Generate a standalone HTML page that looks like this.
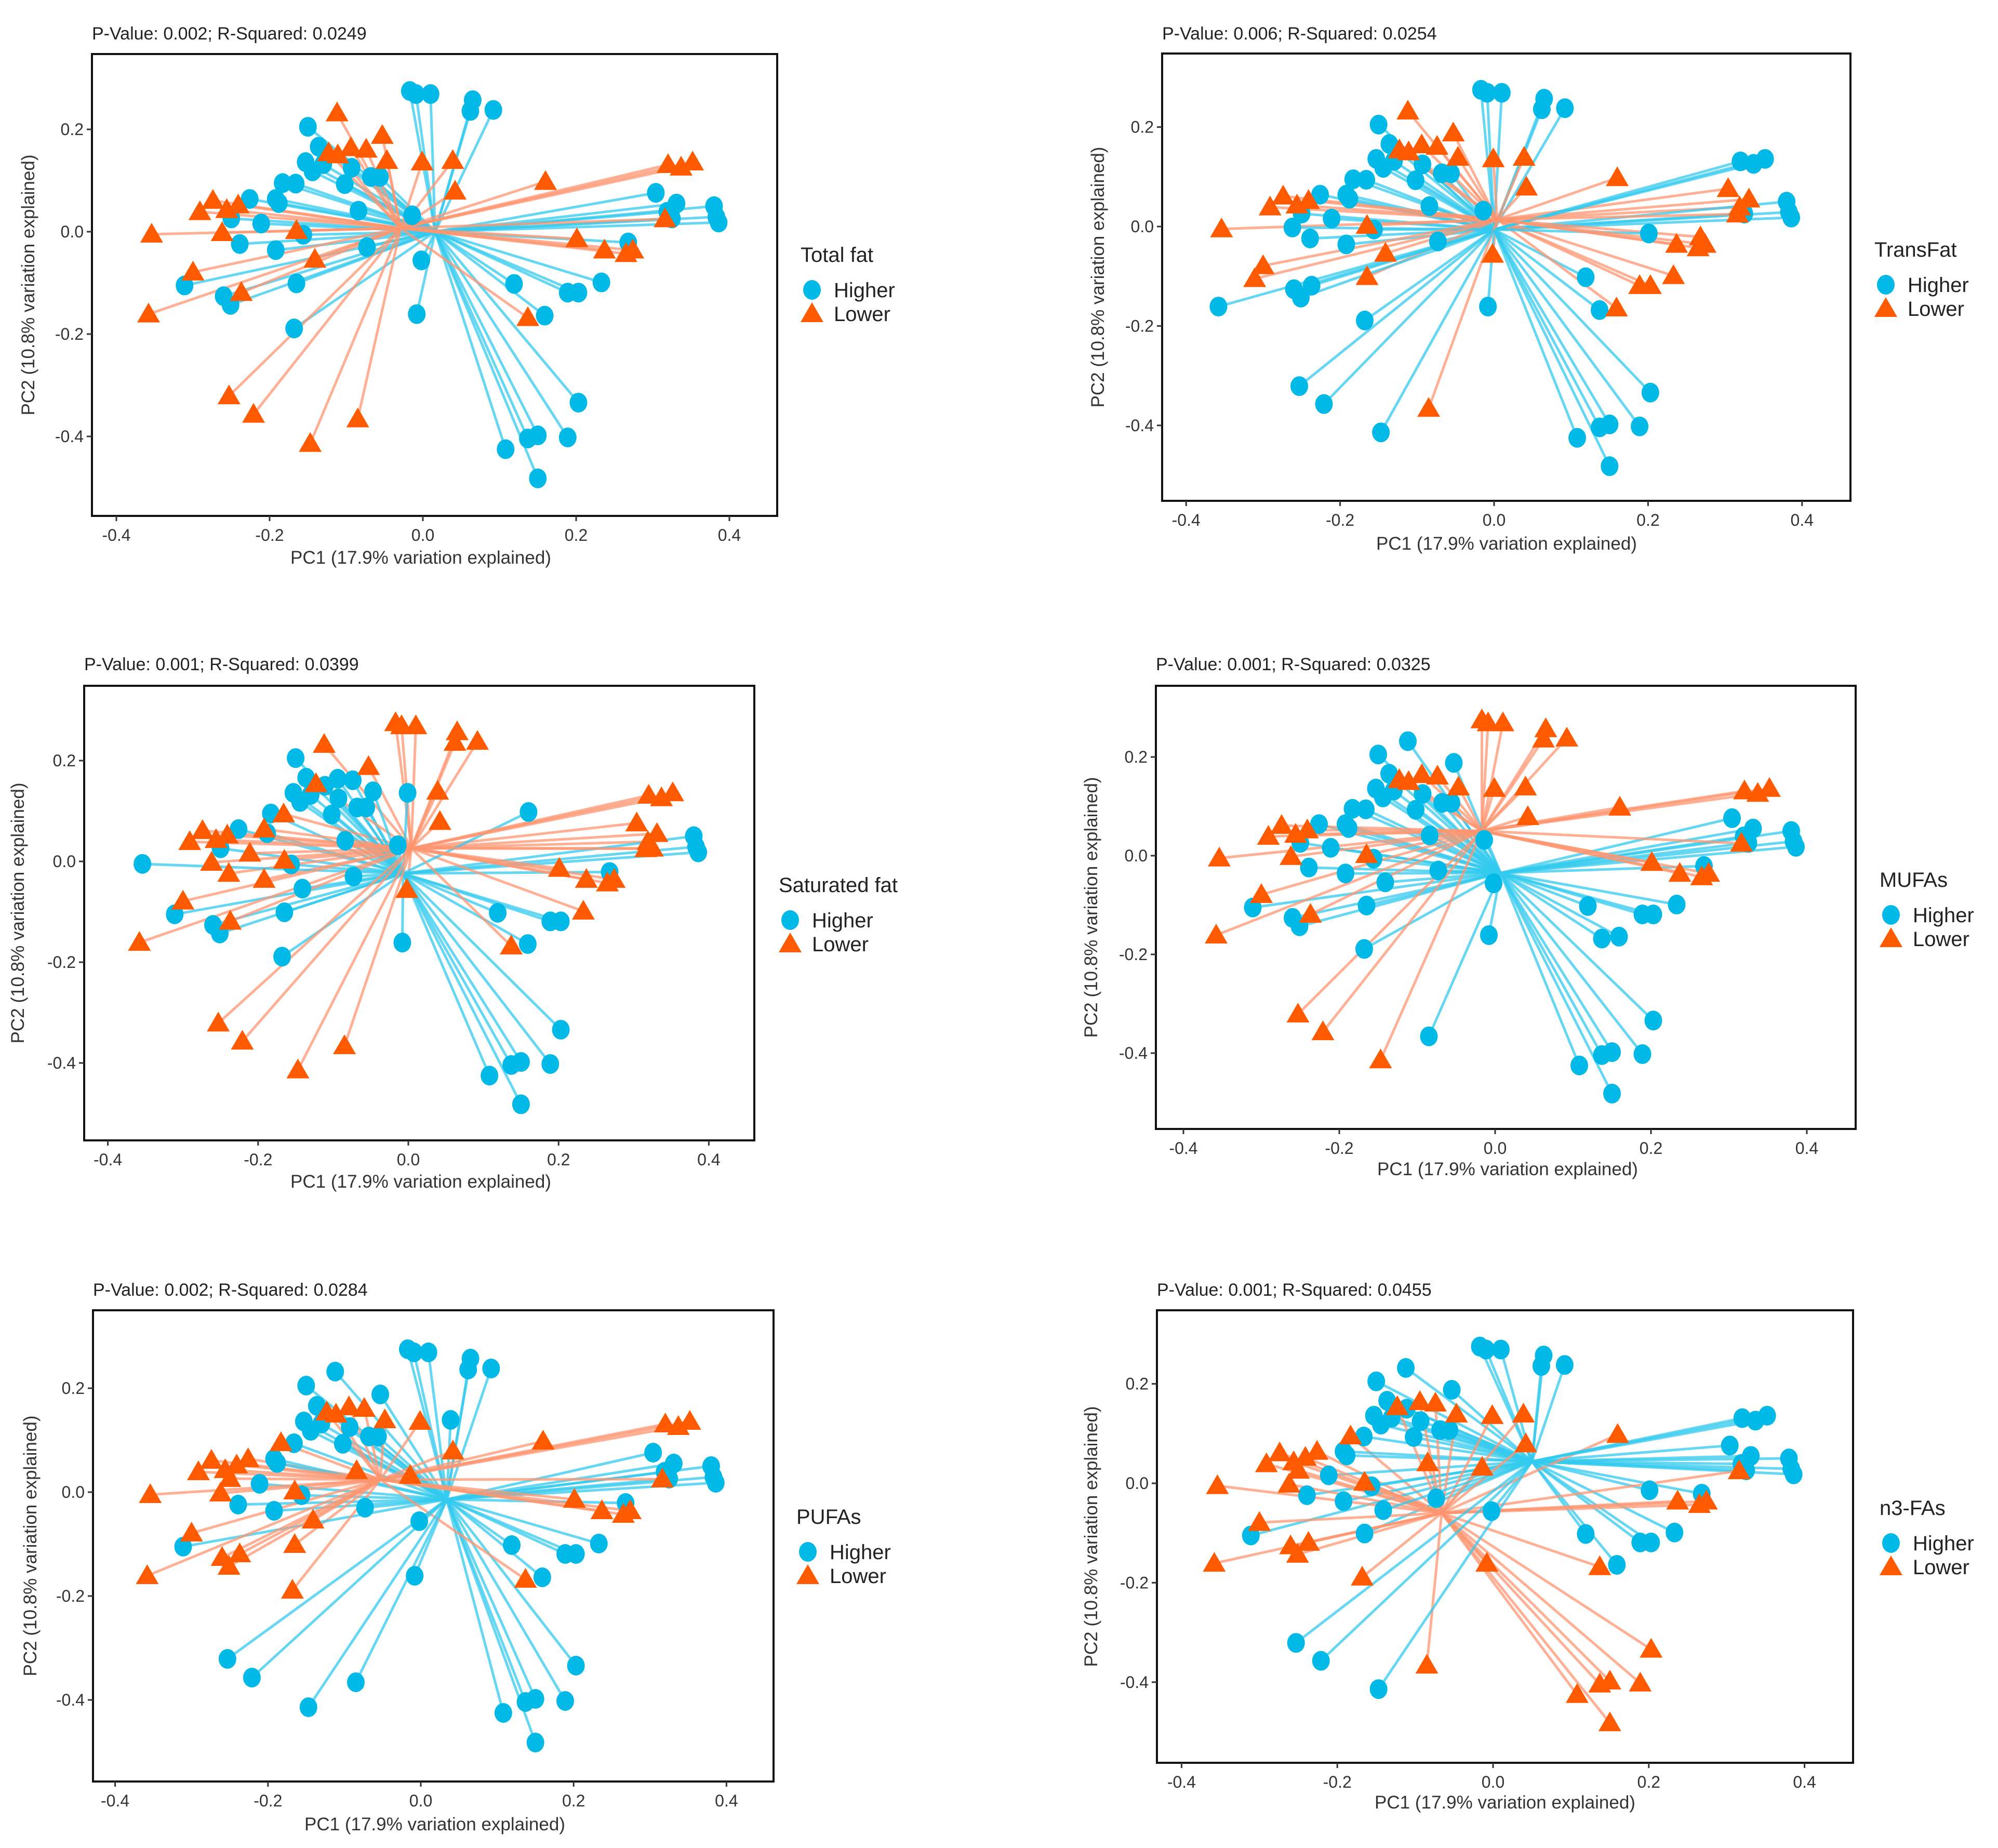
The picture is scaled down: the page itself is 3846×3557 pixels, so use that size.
<!DOCTYPE html>
<html><head><meta charset="utf-8"><style>
html,body{margin:0;padding:0;background:#fff;}
svg{display:block;font-family:"Liberation Sans",sans-serif;}
</style></head><body>
<svg id="fig" width="3846" height="3557" viewBox="0 0 3846 3557" xmlns="http://www.w3.org/2000/svg"></svg>
<script>
// Shared sample coordinates (PC1, PC2)
const pc1 = [-0.017,-0.009,0.010,0.065,0.062,0.092,-0.150,-0.136,-0.153,-0.144,-0.130,-0.093,-0.102,-0.183,-0.166,-0.226,-0.192,-0.188,-0.068,-0.056,-0.084,-0.014,-0.250,-0.211,-0.156,-0.239,-0.192,-0.073,-0.002,-0.165,-0.311,-0.260,-0.251,-0.168,-0.008,0.304,0.331,0.319,0.325,0.380,0.383,0.386,0.268,0.119,0.189,0.203,0.233,0.159,0.203,0.137,0.150,0.189,0.108,0.150,-0.112,-0.053,-0.094,-0.074,-0.123,-0.111,-0.047,-0.001,0.039,0.042,0.160,0.320,0.337,0.352,-0.274,-0.291,-0.256,-0.241,-0.354,-0.262,-0.165,-0.141,-0.300,-0.237,-0.358,0.201,0.237,0.265,0.274,0.137,0.316,-0.253,-0.221,-0.085,-0.147];
const pc2 = [0.275,0.269,0.269,0.257,0.236,0.238,0.205,0.166,0.136,0.118,0.132,0.125,0.093,0.095,0.094,0.064,0.064,0.056,0.107,0.107,0.041,0.032,0.026,0.016,-0.006,-0.024,-0.036,-0.030,-0.056,-0.101,-0.105,-0.126,-0.143,-0.189,-0.161,0.076,0.055,0.039,0.026,0.050,0.029,0.018,-0.021,-0.102,-0.119,-0.119,-0.099,-0.164,-0.334,-0.404,-0.398,-0.402,-0.425,-0.482,0.232,0.188,0.164,0.161,0.154,0.150,0.139,0.136,0.139,0.079,0.098,0.131,0.126,0.136,0.061,0.039,0.043,0.052,-0.005,-0.002,0.002,-0.054,-0.079,-0.119,-0.161,-0.014,-0.036,-0.043,-0.036,-0.168,0.025,-0.321,-0.357,-0.366,-0.414];
// Sample numbers (1-based) in the "Lower" group for each panel
const lowerTotalFat = [55,56,57,58,59,60,61,62,63,64,65,66,67,68,69,70,71,72,73,74,75,76,77,78,79,80,81,82,83,84,85,86,87,88,89];
const lowerTransFat = [55,56,57,58,59,60,61,62,63,64,65,36,37,38,85,69,70,71,72,73,75,76,77,31,30,29,43,81,82,83,47,45,46,48,88];
const lowerSatFat = [1,2,3,4,5,6,55,56,59,63,64,66,67,68,36,37,38,39,85,80,81,82,83,47,84,29,74,26,27,24,75,17,15,69,70,71,72,77,78,79,86,87,88,89];
const lowerMUFA = [1,2,3,4,5,6,57,58,59,60,61,62,63,64,65,66,67,68,85,80,81,82,83,69,70,71,72,73,74,75,77,78,79,86,87,89];
const lowerPUFA = [57,58,59,60,61,62,64,65,66,67,68,85,80,81,82,83,84,14,21,22,16,69,70,71,72,23,73,74,75,76,77,32,33,78,79,30,34];
const lowerN3 = [57,58,59,61,62,63,64,65,14,21,22,16,69,70,71,72,23,73,74,75,77,32,33,78,79,34,35,84,81,82,83,85,49,50,51,52,53,54,88];
// Group centroids per panel
const centLowerX = [-0.029,0.004,0.004,-0.017,-0.053,-0.066];
const centLowerY = [0.007,0.014,0.026,0.050,0.024,-0.060];
const centHigherX = [0.016,0.000,-0.007,0.007,0.034,0.050];
const centHigherY = [0.000,-0.006,-0.024,-0.035,-0.014,0.044];
const titles = ["P-Value: 0.002; R-Squared: 0.0249","P-Value: 0.006; R-Squared: 0.0254","P-Value: 0.001; R-Squared: 0.0399","P-Value: 0.001; R-Squared: 0.0325","P-Value: 0.002; R-Squared: 0.0284","P-Value: 0.001; R-Squared: 0.0455"];
const legendTitles = ["Total fat","TransFat","Saturated fat","MUFAs","PUFAs","n3-FAs"];
const xTicks = [-0.4,-0.2,0.0,0.2,0.4];
const yTicks = [0.2,0.0,-0.2,-0.4];
const groupsAll = [lowerTotalFat,lowerTransFat,lowerSatFat,lowerMUFA,lowerPUFA,lowerN3];

// layout (pixels)
const L = [
 {bx0:177,bx1:1496,by0:104,by1:993,x0:814,sx:1475,y0:446,sy:985,lx:1563,ly:490,tx:177,ty:76,xt:810,xtY:1085,ytX:66},
 {bx0:2237,bx1:3562,by0:103,by1:964,x0:2876,sx:1482,y0:436,sy:957,lx:3630,ly:480,tx:2237,ty:76,xt:2900,xtY:1058,ytX:2125},
 {bx0:162,bx1:1452,by0:1320,by1:2195,x0:786,sx:1446,y0:1658,sy:970,lx:1521,ly:1703,tx:162,ty:1290,xt:810,xtY:2286,ytX:46},
 {bx0:2225,bx1:3572,by0:1320,by1:2173,x0:2878,sx:1500,y0:1647,sy:950,lx:3640,ly:1693,tx:2225,ty:1290,xt:2902,xtY:2262,ytX:2112},
 {bx0:179,bx1:1489,by0:2522,by1:3429,x0:810,sx:1471,y0:2872,sy:1000,lx:1555,ly:2919,tx:179,ty:2494,xt:837,xtY:3523,ytX:70},
 {bx0:2227,bx1:3567,by0:2522,by1:3393,x0:2874,sx:1499,y0:2855,sy:957,lx:3640,ly:2902,tx:2227,ty:2494,xt:2897,xtY:3481,ytX:2112}
];
const BLUE="#00B9E6", ORANGE="#FF5A00", BLUEL="#33C9EE", ORANGEL="#FF9670";
const NS="http://www.w3.org/2000/svg";
const fig=document.getElementById('fig');
function mk(tag,attrs,parent){const e=document.createElementNS(NS,tag);for(const k in attrs)e.setAttribute(k,attrs[k]);parent.appendChild(e);return e;}
function fmt(v){return v.toFixed(1);}

for(let p=0;p<6;p++){
  const c=L[p];
  const X=v=>c.x0+v*c.sx, Y=v=>c.y0-v*c.sy;
  const low=new Set(groupsAll[p]);
  const g=mk('g',{},fig);
  
  
  const t=mk('text',{x:c.tx,y:c.ty,'font-size':34,fill:'#222'},g);
  t.textContent=titles[p];
  
  
  const box=mk('rect',{x:c.bx0,y:c.by0,width:c.bx1-c.bx0,height:c.by1-c.by0,fill:'none',stroke:'#111','stroke-width':4},g);
  
  
  // ticks
  xTicks.forEach(v=>{
    const px=X(v);
    const tk=mk('line',{x1:px,x2:px,y1:c.by1,y2:c.by1+10,stroke:'#333','stroke-width':3},g);
    
    
    const tl=mk('text',{x:px,y:c.by1+48,'font-size':32,'text-anchor':'middle',fill:'#333'},g);
    tl.textContent=fmt(v);
    
    
  });
  yTicks.forEach(v=>{
    const py=Y(v);
    const tk=mk('line',{x1:c.bx0-10,x2:c.bx0,y1:py,y2:py,stroke:'#333','stroke-width':3},g);
    
    
    const tl=mk('text',{x:c.bx0-16,y:py+11,'font-size':32,'text-anchor':'end',fill:'#333'},g);
    tl.textContent=fmt(v);
    
    
  });
  const xa=mk('text',{x:c.xt,y:c.xtY,'font-size':35,'text-anchor':'middle',fill:'#333'},g);
  xa.textContent="PC1 (17.9% variation explained)";
  
  
  const cy=(c.by0+c.by1)/2;
  const ya=mk('text',{x:c.ytX,y:cy,'font-size':35,'text-anchor':'middle',fill:'#333',transform:'rotate(-90 '+c.ytX+' '+cy+')'},g);
  ya.textContent="PC2 (10.8% variation explained)";
  
  
  // spider lines
  const cL=[X(centLowerX[p]),Y(centLowerY[p])], cH=[X(centHigherX[p]),Y(centHigherY[p])];
  for(let i=0;i<pc1.length;i++){
    const isL=low.has(i+1), cc=isL?cL:cH;
    const ln=mk('line',{x1:cc[0],y1:cc[1],x2:X(pc1[i]),y2:Y(pc2[i]),stroke:isL?ORANGEL:BLUEL,'stroke-width':5,'stroke-opacity':0.75},g);
    
    
  }
  // points: higher first, then lower
  for(const pass of [false,true]){
    for(let i=0;i<pc1.length;i++){
      const isL=low.has(i+1); if(isL!==pass) continue;
      const px=X(pc1[i]), py=Y(pc2[i]);
      let m;
      if(isL){
        m=mk('polygon',{points:(px)+','+(py-22)+' '+(px-22)+','+(py+16)+' '+(px+22)+','+(py+16),fill:ORANGE},g);
        
      } else {
        m=mk('ellipse',{cx:px,cy:py,rx:17,ry:19,fill:BLUE},g);
        
      }
      
    }
  }
  // legend
  const lg=mk('g',{},g);
  
  
  const lt=mk('text',{x:c.lx-22,y:c.ly+14,'font-size':40,fill:'#222'},lg);
  lt.textContent=legendTitles[p];
  
  
  const e1=mk('ellipse',{cx:c.lx,cy:c.ly+68,rx:17,ry:19,fill:BLUE},lg);
  
  
  const t1=mk('text',{x:c.lx+42,y:c.ly+82,'font-size':40,fill:'#222'},lg);
  t1.textContent="Higher";
  
  
  const e2=mk('polygon',{points:(c.lx)+','+(c.ly+92)+' '+(c.lx-22)+','+(c.ly+130)+' '+(c.lx+22)+','+(c.ly+130),fill:ORANGE},lg);
  
  
  const t2=mk('text',{x:c.lx+42,y:c.ly+128,'font-size':40,fill:'#222'},lg);
  t2.textContent="Lower";
  
  
}
</script>
</body></html>
